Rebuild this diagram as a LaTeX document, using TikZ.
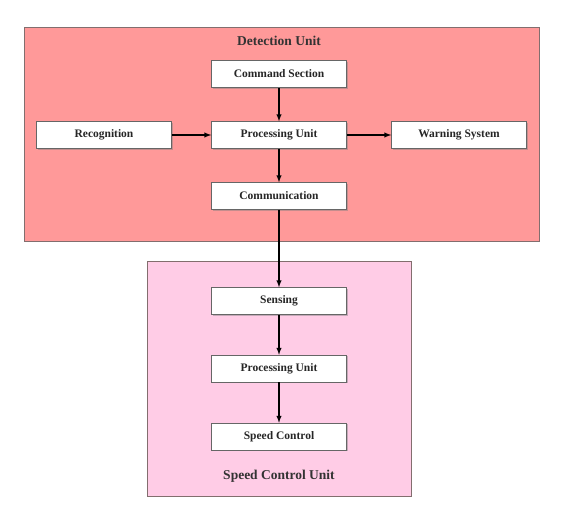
\documentclass[tikz,border=0pt]{standalone}
\usepackage{fontspec}
\setmainfont{Liberation Serif}
\usetikzlibrary{shadows}
\definecolor{detectfill}{RGB}{255,153,153}
\definecolor{speedfill}{RGB}{255,204,230}
\begin{document}
\begin{tikzpicture}[x=1pt,y=1pt,yscale=-1,
  unit/.style={draw={rgb,255:red,130;green,110;blue,110}, line width=0.6pt},
  block/.style={draw=gray!80!black, fill=white, line width=0.5pt, minimum width=135pt, minimum height=27pt, inner sep=0pt,
    font=\fontsize{11.5}{13}\selectfont\bfseries, text=black!85,
    drop shadow={opacity=0.45, shadow xshift=1.2pt, shadow yshift=-1.2pt}},
  title/.style={font=\fontsize{13.5}{15}\selectfont\bfseries, text=black!80},
  link/.style={->, >=latex, line width=1.4pt}]

\useasboundingbox (0,0) rectangle (565,506);

% Units
\draw [unit, fill=detectfill] (24,27) -- (539,27) -- (539,241) -- (24,241) -- cycle ;
\draw [unit, fill=speedfill] (147,261) -- (411,261) -- (411,496) -- (147,496) -- cycle ;

\node [title] (detect) at (279,41) {Detection Unit};
\node [title] (speed) at (279,476) {Speed Control Unit};

% Detection blocks
\node [block] (command) at (279,74) {Command Section};
\node [block] (proc) at (279,135) {Processing Unit};
\node [block] (recog) at (104,135) {Recognition};
\node [block] (warn) at (459,135) {Warning System};
\node [block] (comm) at (279,196) {Communication};

% Speed control blocks
\node [block] (sense) at (279,301) {Sensing};
\node [block] (proctwo) at (279,368.5) {Processing Unit};
\node [block] (control) at (279,436.5) {Speed Control};

% Links
\draw [link] (command) -- (proc);
\draw [link] (recog) -- (proc);
\draw [link] (proc) -- (warn);
\draw [link] (proc) -- (comm);
\draw [link] (comm) -- (sense);
\draw [link] (sense) -- (proctwo);
\draw [link] (proctwo) -- (control);

\end{tikzpicture}
\end{document}
